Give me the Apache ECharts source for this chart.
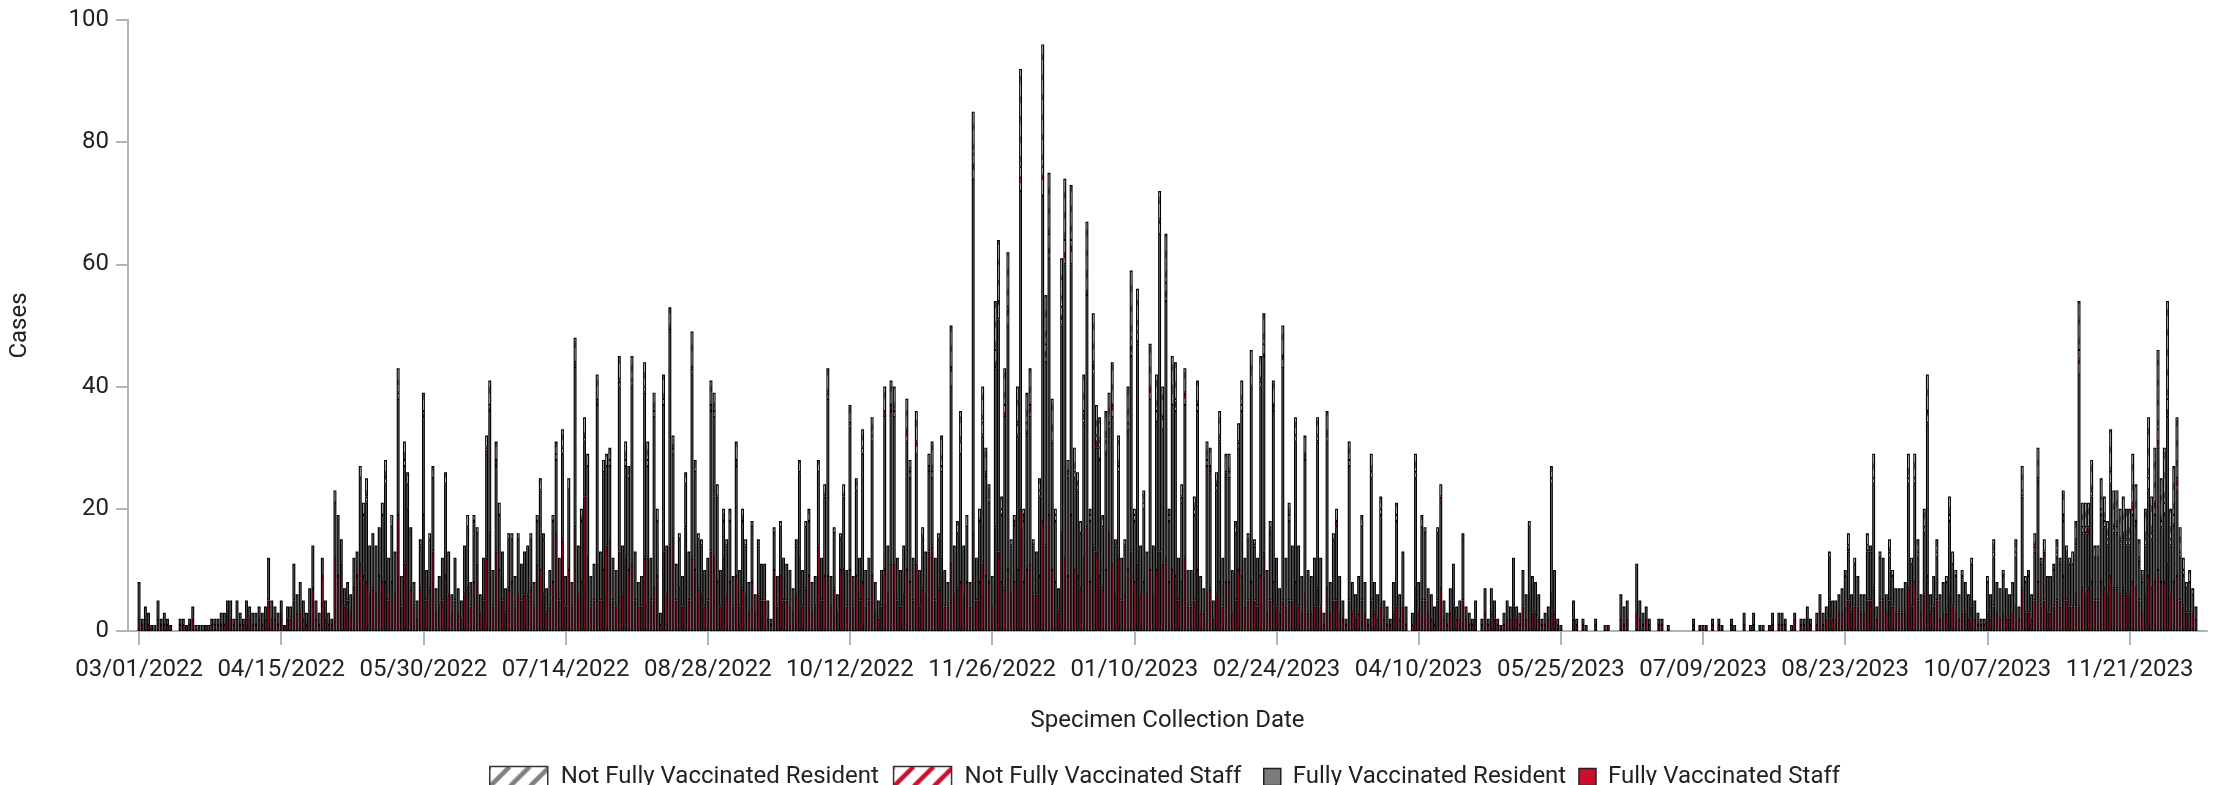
<!DOCTYPE html>
<html>
<head>
<meta charset="utf-8">
<script src="https://cdn.jsdelivr.net/npm/echarts@6/dist/echarts.min.js"></script>
<style>
html,body{margin:0;padding:0;background:#fff;}
#chart{width:2223px;height:785px;}
</style>
</head>
<body>
<div id="chart"></div>
<script>
// Day index 0 = 03/01/2022 ... last value = 12/12/2023
const firstCategory = '2022-02-26';
const categoryCount = 658;
const leadingEmpty = 3;

const tickLabels = ['03/01/2022','04/15/2022','05/30/2022','07/14/2022','08/28/2022','10/12/2022','11/26/2022','01/10/2023','02/24/2023','04/10/2023','05/25/2023','07/09/2023','08/23/2023','10/07/2023','11/21/2023'];

const seriesNames = ['Not Fully Vaccinated Resident','Not Fully Vaccinated Staff','Fully Vaccinated Resident','Fully Vaccinated Staff'];

const fullyVaccinatedStaff = [
2,1,2,1,1,0,2,1,1,1, 1,0,0,1,1,1,1,2,0,1, 0,1,0,1,1,1,1,1,3,2, 1,2,1,1,2,2,1,1,2,1,
2,5,2,2,1,3,1,2,2,5, 3,3,2,1,3,7,2,1,9,2, 1,1,12,9,11,4,5,3,7,9, 11,9,8,6,7,6,9,8,8,5,
8,6,19,4,11,20,7,4,2,7, 19,5,7,13,3,4,5,9,6,3, 5,3,2,6,7,4,8,11,3,5, 12,16,4,13,10,5,3,7,8,4,
6,5,6,6,7,4,11,10,6,3, 4,8,16,5,15,4,10,4,17,6, 8,22,12,4,5,11,5,10,14,15, 5,4,13,6,12,10,11,5,4,4,
12,12,5,7,9,1,13,6,14,15, 5,7,4,17,5,12,10,7,6,4, 5,13,12,8,4,12,6,8,4,9, 4,7,6,3,8,3,6,5,5,2,
1,10,4,9,5,5,4,3,6,12, 4,7,9,3,4,14,5,9,9,4, 7,3,10,10,4,10,4,9,5,8, 4,5,9,3,2,4,10,6,11,11,
5,4,6,10,8,5,11,4,7,6, 13,14,5,7,12,4,4,11,6,7, 8,6,8,4,16,5,8,11,9,8, 4,17,13,8,7,10,6,8,10,20,
8,10,11,6,6,9,18,14,19,10, 8,3,16,12,9,19,10,9,7,12, 17,8,14,13,9,7,10,16,11,6, 12,5,6,10,13,8,11,6,8,6,
10,6,10,13,11,12,8,10,9,5, 8,12,4,4,5,10,3,3,6,7, 2,6,8,4,8,8,3,5,10,9, 4,5,8,5,4,9,13,3,5,8,
4,3,5,4,5,5,8,4,3,6, 3,3,4,7,4,1,7,3,5,5, 3,2,1,5,3,2,3,5,3,1, 5,3,2,4,2,1,1,3,4,2,
4,1,0,1,7,3,5,5,3,2, 1,5,7,2,1,3,4,2,2,5, 2,1,1,2,0,1,3,1,3,2, 1,1,1,2,2,4,2,1,4,2,
6,3,3,2,1,1,2,6,3,1, 0,0,0,0,2,1,0,1,0,0, 0,1,0,0,0,1,0,0,0,2, 1,2,0,0,3,2,1,2,1,0,
0,1,1,0,0,0,0,0,0,0, 0,0,1,0,1,0,1,0,1,0, 1,1,0,0,1,0,0,0,1,0, 0,1,0,1,0,0,1,1,0,1,
1,1,0,0,2,0,1,1,2,1, 0,1,3,1,2,5,2,2,3,3, 4,5,3,4,4,3,3,5,5,7, 2,5,5,3,5,4,3,3,3,3,
7,4,8,5,3,6,9,3,4,5, 2,3,3,6,4,3,2,3,3,2, 4,2,1,1,1,3,2,4,3,2, 3,2,2,3,4,2,7,3,3,2,
5,8,4,5,3,3,4,5,4,9, 5,4,4,6,4,7,6,7,8,5, 5,8,7,6,9,7,7,6,7,6, 6,8,7,5,3,6,9,7,8,10,
8,8,11,6,8,9,5,4,3,3, 3,2];

const fullyVaccinatedResident = [
6,1,2,2,0,1,3,1,2,1, 0,0,0,1,1,0,1,2,1,0, 1,0,1,1,1,1,2,2,2,3, 1,3,2,1,3,2,2,2,2,2,
2,7,3,2,2,2,0,2,2,6, 3,5,3,2,4,7,3,2,3,3, 2,1,9,10,4,3,3,3,5,4, 14,10,13,8,9,8,8,11,16,7,
9,7,19,5,16,4,9,4,3,7, 16,5,8,12,4,5,7,15,7,3, 7,4,3,8,10,4,10,5,3,7, 17,20,6,14,9,8,4,8,7,5,
9,6,7,8,8,4,7,13,9,4, 6,10,12,7,14,5,13,4,26,8, 10,9,15,5,6,26,8,16,13,12, 7,6,27,8,15,15,29,8,4,5,
27,15,7,28,9,2,24,8,35,14, 6,8,5,7,8,30,16,8,8,6, 7,23,23,14,6,6,8,10,5,18, 6,11,8,5,9,3,8,6,6,3,
1,6,5,8,7,6,6,4,8,14, 6,10,9,5,5,12,7,13,29,5, 9,3,5,12,6,23,5,14,7,21, 6,7,22,5,3,6,25,8,25,24,
7,6,8,21,17,7,18,6,8,7, 13,11,7,8,14,6,4,29,8,9, 21,8,9,4,58,7,10,21,16,13, 5,26,38,11,28,40,8,9,22,52,
10,22,24,8,7,13,53,30,42,21, 10,4,34,48,16,41,15,14,9,22, 38,10,28,17,19,10,19,16,24,8, 14,7,8,22,32,10,36,8,12,7,
28,8,24,52,22,42,10,27,27,7, 13,25,6,6,14,26,6,4,21,19, 3,17,23,8,17,17,7,11,20,27, 8,10,32,9,8,31,32,7,11,28,
8,4,38,8,13,9,23,10,6,22, 7,6,8,24,8,2,24,5,10,12, 6,3,1,22,5,4,6,12,5,1, 20,5,4,15,3,3,1,5,14,4,
9,3,0,2,18,5,12,11,4,4, 3,11,14,3,2,4,7,2,3,10, 2,2,1,3,0,1,4,1,4,3, 1,0,2,3,2,8,2,2,6,4,
11,6,5,4,1,2,2,18,7,1, 1,0,0,0,3,1,0,1,1,0, 0,1,0,0,1,0,0,0,0,4, 3,3,0,0,8,3,2,2,1,0,
0,1,1,0,1,0,0,0,0,0, 0,0,1,0,0,1,0,0,1,0, 1,0,0,0,1,1,0,0,2,0, 1,2,0,0,1,0,0,2,0,2,
2,1,0,1,1,0,1,1,2,1, 0,2,3,2,2,7,3,3,3,4, 5,8,3,7,5,3,3,8,8,17, 2,7,7,3,7,5,4,4,4,5,
17,7,16,7,3,10,25,3,5,7, 4,5,5,12,7,6,4,6,5,4, 7,3,2,1,1,5,4,8,5,5, 6,5,4,5,8,2,15,5,6,4,
8,16,7,7,6,6,6,7,7,9, 7,7,7,8,38,9,10,9,14,7, 7,11,10,8,15,9,9,8,8,8, 8,11,10,6,5,8,14,8,11,20,
9,11,24,8,9,14,7,5,4,5, 3,2];

const notFullyVaccinatedStaff = [
0,0,0,0,0,0,0,0,0,0, 0,0,0,0,0,0,0,0,0,0, 0,0,0,0,0,0,0,0,0,0, 0,0,0,0,0,0,0,0,0,0,
0,0,0,0,0,0,0,0,0,0, 0,0,0,0,0,0,0,0,0,0, 0,0,0,0,0,0,0,0,0,0, 0,0,1,0,0,0,0,0,1,0,
0,0,1,0,1,0,0,0,0,0, 1,0,0,0,0,0,0,0,0,0, 0,0,0,0,0,0,0,0,0,0, 1,1,0,1,0,0,0,0,0,0,
0,0,0,0,0,0,0,0,0,0, 0,0,1,0,1,0,0,0,1,0, 0,1,0,0,0,1,0,0,0,1, 0,0,1,0,1,0,1,0,0,0,
1,1,0,1,0,0,1,0,1,1, 0,0,0,0,0,1,0,0,0,0, 0,1,1,0,0,0,0,0,0,1, 0,0,0,0,0,0,0,0,0,0,
0,0,0,0,0,0,0,0,0,0, 0,0,0,0,0,0,0,0,1,0, 0,0,0,0,0,1,0,0,0,1, 0,0,1,0,0,0,1,0,1,1,
0,0,0,2,1,0,2,0,0,0, 1,1,0,0,1,0,0,3,0,0, 2,0,0,0,4,0,0,2,1,1, 0,3,3,1,2,3,0,1,2,4,
1,2,2,0,0,1,5,3,4,2, 1,0,3,4,1,4,1,1,0,2, 3,1,2,2,2,0,2,2,2,0, 1,0,0,2,3,1,2,0,1,0,
2,0,2,2,2,3,1,2,2,0, 1,2,0,0,1,1,0,0,1,1, 0,1,1,0,1,1,0,0,1,1, 0,0,2,0,0,1,2,0,0,1,
0,0,2,0,1,0,1,0,0,1, 0,0,0,1,0,0,1,0,0,1, 0,0,0,1,0,0,0,0,0,0, 1,0,0,1,0,0,0,0,1,0,
0,0,0,0,1,0,0,0,0,0, 0,0,1,0,0,0,0,0,0,0, 0,0,0,0,0,0,0,0,0,0, 0,0,0,0,0,0,0,0,0,0,
0,0,0,0,0,0,0,1,0,0, 0,0,0,0,0,0,0,0,0,0, 0,0,0,0,0,0,0,0,0,0, 0,0,0,0,0,0,0,0,0,0,
0,0,0,0,0,0,0,0,0,0, 0,0,0,0,0,0,0,0,0,0, 0,0,0,0,0,0,0,0,0,0, 0,0,0,0,0,0,0,0,0,0,
0,0,0,0,0,0,0,0,0,0, 0,0,0,0,0,0,0,0,0,0, 0,1,0,0,0,0,0,1,0,1, 0,0,0,0,1,0,0,0,0,0,
1,0,1,1,0,1,2,0,0,1, 0,0,0,1,0,0,0,0,0,0, 0,0,0,0,0,0,0,1,0,0, 0,0,0,0,1,0,1,0,0,0,
1,1,0,1,0,0,0,1,0,1, 0,0,0,1,4,1,1,1,1,0, 0,1,1,1,2,1,1,1,1,1, 1,2,1,1,0,1,2,1,2,3,
1,2,3,1,2,2,1,1,0,0, 0,0];

const notFullyVaccinatedResident = [
0,0,0,0,0,0,0,0,0,0, 0,0,0,0,0,0,0,0,0,0, 0,0,0,0,0,0,0,0,0,0, 0,0,0,0,0,0,0,0,0,0,
0,0,0,0,0,0,0,0,0,0, 0,0,0,0,0,0,0,0,0,0, 0,0,2,0,0,0,0,0,0,0, 2,2,3,0,0,0,0,2,3,0,
2,0,4,0,3,2,1,0,0,1, 3,0,1,2,0,0,0,2,0,0, 0,0,0,0,2,0,1,1,0,0, 2,4,0,3,2,0,0,1,1,0,
1,0,0,0,1,0,1,2,1,0, 0,1,2,0,3,0,2,0,4,0, 2,3,2,0,0,4,0,2,2,2, 0,0,4,0,3,2,4,0,0,0,
4,3,0,3,2,0,4,0,3,2, 0,1,0,2,0,6,2,1,1,0, 0,4,3,2,0,2,1,2,0,3, 0,2,1,0,1,0,1,0,0,0,
0,1,0,1,0,0,0,0,1,2, 0,1,2,0,0,2,0,2,4,0, 1,0,1,2,0,3,0,2,0,3, 0,0,3,0,0,0,4,0,4,4,
0,0,0,5,2,0,5,0,2,0, 2,5,0,1,5,0,0,7,0,2, 5,0,2,0,7,0,2,6,4,2, 0,8,10,2,6,9,1,1,6,16,
1,5,6,1,0,2,20,8,10,5, 1,0,8,10,2,9,4,2,2,6, 9,1,8,5,5,2,5,5,7,1, 5,0,1,6,11,1,7,0,2,0,
7,0,6,5,5,8,1,6,6,0, 2,4,0,0,2,4,0,0,3,3, 0,2,4,0,3,3,0,2,3,4, 0,1,4,1,0,4,5,0,2,4,
0,0,5,0,2,0,3,0,0,3, 0,0,0,3,0,0,4,0,1,2, 0,0,0,3,0,0,0,2,0,0, 3,0,0,2,0,0,0,0,2,0,
0,0,0,0,3,0,2,1,0,0, 0,1,2,0,0,0,0,0,0,1, 0,0,0,0,0,0,0,0,0,0, 0,0,0,0,0,0,0,0,0,0,
1,0,0,0,0,0,0,2,0,0, 0,0,0,0,0,0,0,0,0,0, 0,0,0,0,0,0,0,0,0,0, 0,0,0,0,0,0,0,0,0,0,
0,0,0,0,0,0,0,0,0,0, 0,0,0,0,0,0,0,0,0,0, 0,0,0,0,0,0,0,0,0,0, 0,0,0,0,0,0,0,0,0,0,
0,0,0,0,0,0,0,0,0,0, 0,0,0,0,0,1,0,0,0,0, 1,2,0,1,0,0,0,2,1,4, 0,1,0,0,2,1,0,0,0,0,
4,1,4,2,0,3,6,0,0,2, 0,0,1,3,2,1,0,1,0,0, 1,0,0,0,0,1,0,2,0,0, 1,0,0,0,2,0,4,1,1,0,
2,5,1,2,0,0,1,2,1,4, 2,1,2,3,8,4,4,4,5,2, 2,5,4,3,7,6,6,5,6,5, 5,8,6,3,2,5,10,6,9,13,
7,9,16,5,8,10,4,2,1,2, 1,0];

// ---- categories (dates) ----
function pad(n){return (n<10?'0':'')+n;}
const categories = [];
(function(){
  const p = firstCategory.split('-').map(Number);
  for (let i = 0; i < categoryCount; i++) {
    const d = new Date(Date.UTC(p[0], p[1]-1, p[2] + i));
    categories.push(pad(d.getUTCMonth()+1) + '/' + pad(d.getUTCDate()) + '/' + d.getUTCFullYear());
  }
})();

function toSeriesData(arr){
  const out = [];
  for (let i = 0; i < leadingEmpty; i++) out.push('-');
  arr.forEach(v => out.push(v === 0 ? '-' : v));
  return out;
}

function hatch(color){
  const c = document.createElement('canvas');
  c.width = 20; c.height = 20;
  const g = c.getContext('2d');
  g.fillStyle = '#ffffff';
  g.fillRect(0,0,20,20);
  g.strokeStyle = color;
  g.lineWidth = 4.5;
  [-20,0,20].forEach(k => {
    g.beginPath(); g.moveTo(k,20); g.lineTo(k+20,0); g.stroke();
  });
  return {image: c, repeat: 'repeat'};
}

const FONT = 'Roboto, "Open Sans", sans-serif';
const TXT = '#222222';
const AXIS = '#aeb5ba';
const isTick = (idx, val) => tickLabels.indexOf(val) >= 0;

const barCommon = {
  type: 'bar', stack: 'cases', barWidth: 2.9,
  emphasis: {disabled: true}, animation: false, large: false
};
const BW = 1.15;

const chart = echarts.init(document.getElementById('chart'), null, {renderer: 'canvas'});
chart.setOption({
  animation: false,
  backgroundColor: '#ffffff',
  textStyle: {fontFamily: FONT},
  grid: {left: 128, right: 16, top: 20, bottom: 154, containLabel: false},
  legend: [
    {
      data: [seriesNames[0], seriesNames[1]],
      left: 484, top: 760, icon: 'rect', itemWidth: 58, itemHeight: 21, itemGap: 14,
      selectedMode: false,
      itemStyle: {borderWidth: 1.5, borderColor: '#333333'},
      textStyle: {fontSize: 24, color: TXT, fontFamily: FONT, padding: [0,0,0,8]}
    },
    {
      data: [seriesNames[2], seriesNames[3]],
      left: 1258, top: 760, icon: 'rect', itemWidth: 17, itemHeight: 17, itemGap: 12,
      selectedMode: false,
      itemStyle: {borderWidth: 1.5, borderColor: '#222222'},
      textStyle: {fontSize: 24, color: TXT, fontFamily: FONT, padding: [0,0,0,7]}
    }
  ],
  xAxis: {
    type: 'category',
    data: categories,
    boundaryGap: true,
    name: 'Specimen Collection Date',
    nameLocation: 'middle',
    nameGap: 78,
    nameTextStyle: {fontSize: 24, color: TXT, fontFamily: FONT},
    axisLine: {show: true, lineStyle: {color: AXIS, width: 2}},
    axisTick: {show: true, alignWithLabel: true, interval: isTick, length: 14, lineStyle: {color: AXIS, width: 2}},
    axisLabel: {interval: isTick, fontSize: 24, color: TXT, margin: 27, fontFamily: FONT},
    splitLine: {show: false}
  },
  yAxis: {
    type: 'value',
    min: 0, max: 100, interval: 20,
    name: 'Cases',
    nameLocation: 'middle',
    nameRotate: 90,
    nameGap: 96,
    nameTextStyle: {fontSize: 24, color: TXT, fontFamily: FONT},
    axisLine: {show: true, lineStyle: {color: AXIS, width: 2}},
    axisTick: {show: true, length: 12, lineStyle: {color: AXIS, width: 2}},
    axisLabel: {fontSize: 24, color: TXT, margin: 19, fontFamily: FONT},
    splitLine: {show: false}
  },
  series: [
    Object.assign({}, barCommon, {
      name: seriesNames[3], data: toSeriesData(fullyVaccinatedStaff),
      itemStyle: {color: '#c8102e', borderColor: '#000000', borderWidth: BW}
    }),
    Object.assign({}, barCommon, {
      name: seriesNames[2], data: toSeriesData(fullyVaccinatedResident),
      itemStyle: {color: '#7c7c7c', borderColor: '#000000', borderWidth: BW}
    }),
    Object.assign({}, barCommon, {
      name: seriesNames[1], data: toSeriesData(notFullyVaccinatedStaff),
      itemStyle: {color: hatch('#c8102e'), borderColor: '#000000', borderWidth: BW}
    }),
    Object.assign({}, barCommon, {
      name: seriesNames[0], data: toSeriesData(notFullyVaccinatedResident),
      itemStyle: {color: hatch('#808080'), borderColor: '#000000', borderWidth: BW}
    })
  ]
});
</script>
</body>
</html>
